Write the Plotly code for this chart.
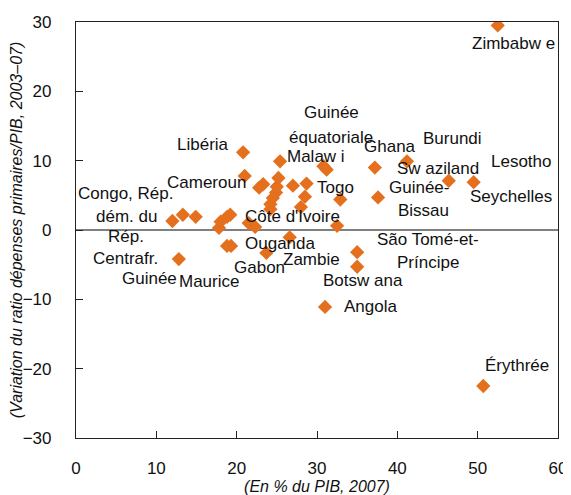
import plotly.graph_objects as go

# Data points (x: % du PIB 2007, y: variation du ratio dépenses primaires/PIB 2003-07)
x_vals = [52.5, 50.7, 20.8, 21.0, 25.4, 25.2, 22.8, 23.3, 25.0, 27.0,
          28.7, 28.5, 24.9, 24.5, 24.2, 24.2, 28.0, 30.8, 31.2, 32.9,
          32.5, 37.2, 41.2, 46.4, 49.5, 37.6, 35.0, 35.0, 31.0, 26.6,
          23.7, 18.8, 19.3, 12.8, 12.0, 13.3, 14.9, 17.8, 18.0, 18.8,
          19.2, 21.5, 22.3]
y_vals = [29.5, -22.5, 11.2, 7.8, 9.9, 7.5, 6.1, 6.6, 6.25, 6.4,
          6.7, 4.8, 5.4, 4.6, 3.7, 3.0, 3.3, 9.2, 8.7, 4.4,
          0.6, 9.0, 9.9, 7.1, 6.9, 4.7, -3.2, -5.3, -11.1, -1.05,
          -3.3, -2.3, -2.3, -4.2, 1.3, 2.2, 1.9, 0.3, 1.2, 1.9,
          2.2, 1.0, 0.45]

# Country labels (text) and their placement in data coordinates
label_texts = ["Zimbabw e", "Érythrée", "Libéria", "Cameroun", "Congo, Rép.",
               "dém. du", "Rép.", "Centrafr.", "Guinée", "Maurice", "Gabon",
               "Ouganda", "Zambie", "Côte d'Ivoire", "Malaw i", "Togo",
               "Guinée", "équatoriale", "Ghana", "Burundi", "Sw aziland",
               "Lesotho", "Seychelles", "Guinée-", "Bissau", "São Tomé-et-",
               "Príncipe", "Botsw ana", "Angola"]
label_x = [54.4, 54.9, 15.75, 16.3, 6.2, 6.3, 6.2, 6.2, 9.1, 16.5, 22.8,
           25.4, 29.3, 27.0, 29.9, 32.3, 31.8, 31.7, 39.1, 46.9, 45.0,
           55.5, 54.2, 42.7, 43.2, 43.8, 43.8, 35.7, 36.6]
label_y = [26.9, -19.5, 12.4, 6.8, 5.3, 2.0, -0.9, -4.1, -7.0, -7.4, -5.4,
           -2.0, -4.3, 1.9, 10.6, 6.2, 17.0, 13.4, 12.1, 13.2, 8.8,
           9.85, 4.9, 6.15, 2.8, -1.3, -4.7, -7.3, -11.1]

x_ticks = [0, 10, 20, 30, 40, 50, 60]
y_ticks = [-30, -20, -10, 0, 10, 20, 30]

FONT = "Liberation Sans, Arial, sans-serif"

fig = go.Figure()
fig.add_trace(go.Scatter(
    x=x_vals, y=y_vals, mode="markers",
    marker=dict(symbol="diamond", size=11, color="#E4701E", line=dict(width=0)),
    showlegend=False, hoverinfo="x+y",
))

for t, lx, ly in zip(label_texts, label_x, label_y):
    fig.add_annotation(x=lx, y=ly, text=t, showarrow=False,
                       font=dict(family=FONT, size=17, color="#111111"),
                       xanchor="center", yanchor="middle")

# the page body adds an 8px offset, so the figure is sized to fit the window
fig.update_layout(
    width=563, height=487,
    margin=dict(l=68, r=13, t=14, b=57),
    paper_bgcolor="white", plot_bgcolor="white",
    font=dict(family=FONT, size=17, color="#111111"),
)
fig.update_xaxes(
    range=[0, 60], tickvals=x_ticks, ticks="inside", ticklen=7,
    tickcolor="#222222", showline=True, linecolor="#222222", linewidth=1.2,
    mirror=True, showgrid=False, zeroline=False, automargin=False,
    ticklabelstandoff=14,
    tickfont=dict(family=FONT, size=17, color="#111111"),
    title=dict(text="<i>(En % du PIB, 2007)</i>", standoff=6,
               font=dict(family=FONT, size=16, color="#111111")),
)
fig.update_yaxes(
    range=[-30, 30], tickvals=y_ticks, ticks="inside", ticklen=7,
    tickcolor="#222222", showline=True, linecolor="#222222", linewidth=1.2,
    mirror=True, showgrid=False, automargin=False,
    zeroline=True, zerolinecolor="#808080", zerolinewidth=1.5,
    ticklabelstandoff=20,
    tickfont=dict(family=FONT, size=17, color="#111111"),
    title=dict(text="<i>(Variation du ratio dépenses primaires/PIB, 2003–07)</i>",
               standoff=2, font=dict(family=FONT, size=16, color="#111111")),
)

fig.write_html("out.html")
